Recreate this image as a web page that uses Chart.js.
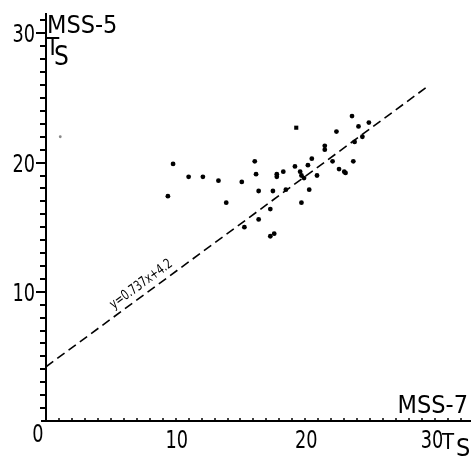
<!DOCTYPE html>
<html>
<head>
<meta charset="utf-8">
<script src="https://cdn.jsdelivr.net/npm/chart.js@4.4.1/dist/chart.umd.min.js"></script>
<style>
  html, body { margin: 0; padding: 0; background: #fff; }
  #wrap { width: 476px; height: 456px; }
</style>
</head>
<body>
<div id="wrap"><canvas id="c" width="476" height="456"></canvas></div>
<script>
// Surface temperature pairs: MSS-7 (x) against MSS-5 (y)
const mss7 = [9.4, 9.8, 11.0, 12.1, 13.3, 13.9, 15.1, 15.3, 16.1, 16.2, 16.4, 16.4,
              17.3, 17.3, 17.6, 17.5, 17.8, 17.8, 18.3, 18.5, 19.2, 19.6, 19.7, 19.9,
              19.7, 20.3, 20.2, 20.5, 20.9, 21.5, 21.5, 22.1, 22.4, 22.6, 23.0, 23.1,
              23.6, 23.7, 23.8, 24.1, 24.4, 24.9];
const mss5 = [17.4, 19.9, 18.9, 18.9, 18.6, 16.9, 18.5, 15.0, 20.1, 19.1, 17.8, 15.6,
              16.4, 14.3, 14.5, 17.8, 19.1, 18.9, 19.3, 17.9, 19.7, 19.3, 19.0, 18.8,
              16.9, 17.9, 19.8, 20.3, 19.0, 21.3, 21.0, 20.1, 22.4, 19.5, 19.3, 19.2,
              23.6, 20.1, 21.6, 22.8, 22.0, 23.1];

// Single sample drawn with a square marker
const squareX = [19.3];
const squareY = [22.7];

// Isolated faint sample near the y axis
const strayX = [1.1];
const strayY = [22.0];

// Regression line y = 0.737x + 4.2
const fitSlope = 0.737;
const fitIntercept = 4.2;
const fitFrom = 0;
const fitTo = 29.5;
const fitLabel = 'y=0.737x+4.2';

// Axis labelling
const tickValues = [0, 10, 20, 30];
const tickLabels = ['0', '10', '20', '30'];

const pairs = (xs, ys) => xs.map((x, i) => ({ x, y: ys[i] }));
const fitLine = [fitFrom, fitTo].map(x => ({ x, y: fitSlope * x + fitIntercept }));

const FONT = '"DejaVu Sans Condensed", "DejaVu Sans", sans-serif';

// Text drawn with an optional horizontal squeeze for the narrow numerals
function label(ctx, text, x, y, size, align, squeeze) {
  ctx.save();
  ctx.translate(x, y);
  ctx.scale(squeeze || 1, 1);
  ctx.font = size + 'px ' + FONT;
  ctx.textAlign = align;
  ctx.textBaseline = 'alphabetic';
  ctx.fillText(text, 0, 0);
  ctx.restore();
}

const axisDecor = {
  id: 'axisDecor',
  afterDraw(chart) {
    const ctx = chart.ctx;
    const area = chart.chartArea;
    const xs = chart.scales.x, ys = chart.scales.y;
    const left = xs.getPixelForValue(0);
    const bottom = ys.getPixelForValue(0);
    ctx.save();
    ctx.fillStyle = '#000';

    // y axis: ticks every unit pointing outward, longer at labelled values
    for (let v = 1; v <= 31; v++) {
      const py = Math.round(ys.getPixelForValue(v));
      const len = v % 10 === 0 ? 10 : 6;
      ctx.fillRect(left - len, py - 1, len, 2);
    }
    // x axis: short ticks every unit, standing on the axis
    for (let v = 1; v <= 32; v++) {
      const px = Math.round(xs.getPixelForValue(v));
      ctx.fillRect(px - 0.75, bottom - 3, 1.5, 3);
    }
    // extend the x axis a little left of the origin
    ctx.fillRect(left - 5, bottom - 1, 5, 2);

    // tick labels
    tickValues.forEach((v, i) => {
      if (v === 0) return;
      label(ctx, tickLabels[i], left - 11, ys.getPixelForValue(v) + 9, 24, 'right', 0.82);
      label(ctx, tickLabels[i], xs.getPixelForValue(v) + (v === 30 ? -3 : 1), bottom + 27, 24, 'center', 0.82);
    });
    label(ctx, tickLabels[0], left - 8, bottom + 21, 24, 'center', 0.82);

    // axis titles
    label(ctx, 'MSS-5', area.left + 1, 33, 25, 'left');
    label(ctx, 'T', area.left, 55, 24, 'left');
    label(ctx, 'S', area.left + 8, 65, 26, 'left');
    label(ctx, 'MSS-7', 468, 413, 25, 'right');
    label(ctx, 'T', 442, 449, 22, 'left');
    label(ctx, 'S', 456, 456, 25, 'left');

    // regression equation written along the line
    const x0 = xs.getPixelForValue(fitLine[0].x), y0 = ys.getPixelForValue(fitLine[0].y);
    const x1 = xs.getPixelForValue(fitLine[1].x), y1 = ys.getPixelForValue(fitLine[1].y);
    const ang = Math.atan2(y1 - y0, x1 - x0);
    const lx = 7.8;
    const px = xs.getPixelForValue(lx), py = ys.getPixelForValue(fitSlope * lx + fitIntercept);
    ctx.translate(px, py);
    ctx.rotate(ang);
    ctx.scale(0.8, 1);
    ctx.font = '14px ' + FONT;
    ctx.textAlign = 'center';
    ctx.textBaseline = 'bottom';
    ctx.fillText(fitLabel, 0, -3);
    ctx.restore();
  }
};

new Chart(document.getElementById('c'), {
  type: 'scatter',
  data: {
    datasets: [
      {
        data: fitLine,
        showLine: true,
        borderColor: '#000',
        borderWidth: 1.6,
        borderDash: [9, 5],
        pointRadius: 0,
        fill: false
      },
      {
        data: pairs(mss7, mss5),
        backgroundColor: '#000',
        borderWidth: 0,
        pointRadius: 2.4
      },
      {
        data: pairs(squareX, squareY),
        backgroundColor: '#000',
        borderWidth: 0,
        pointStyle: 'rect',
        pointRadius: 2.9
      },
      {
        data: pairs(strayX, strayY),
        backgroundColor: '#888',
        borderWidth: 0,
        pointRadius: 1.4
      }
    ]
  },
  options: {
    responsive: false,
    animation: false,
    events: [],
    layout: { padding: { left: 46, right: 6, top: 14, bottom: 35 } },
    plugins: { legend: { display: false }, tooltip: { enabled: false } },
    scales: {
      x: {
        type: 'linear', min: 0, max: 32.7,
        grid: { display: false, drawTicks: false },
        ticks: { display: false },
        border: { display: true, color: '#000', width: 2 },
        afterFit(s) { s.height = 0; }
      },
      y: {
        type: 'linear', min: 0, max: 31.5,
        grid: { display: false, drawTicks: false },
        ticks: { display: false },
        border: { display: true, color: '#000', width: 2 },
        afterFit(s) { s.width = 0; }
      }
    }
  },
  plugins: [axisDecor]
});
</script>
</body>
</html>
